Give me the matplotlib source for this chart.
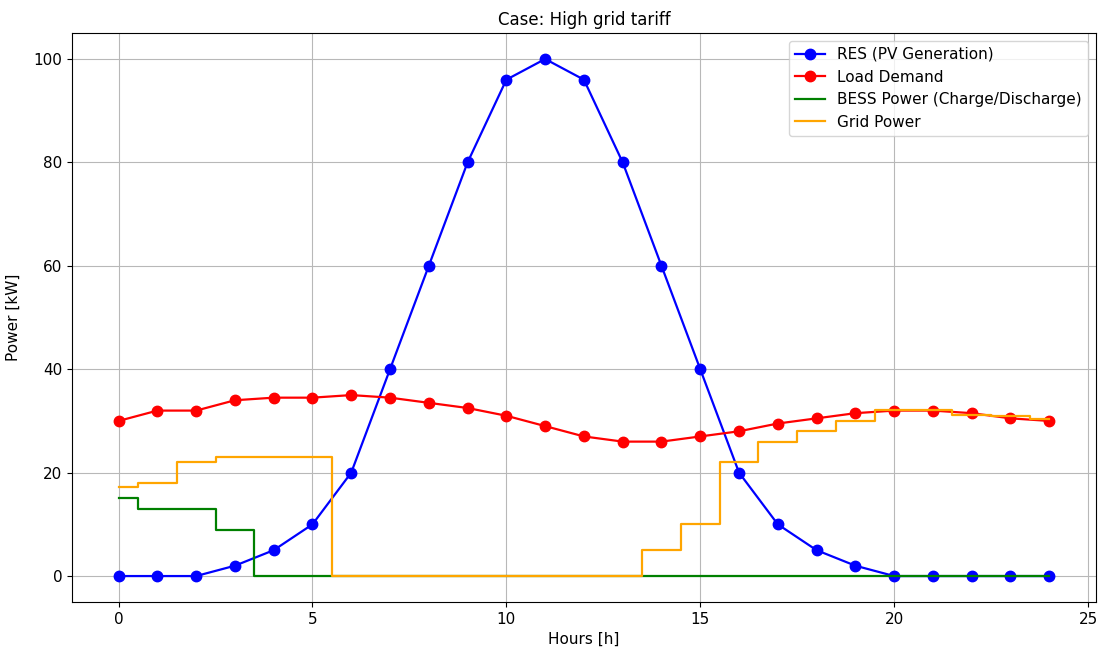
import matplotlib
matplotlib.use('Agg')
import matplotlib.pyplot as plt

hours = list(range(25))
res_pv = [0, 0, 0, 2, 5, 10, 20, 40, 60, 80, 96, 100, 96, 80, 60, 40, 20, 10, 5, 2, 0, 0, 0, 0, 0]
load = [30, 32, 32, 34, 34.5, 34.5, 35, 34.5, 33.5, 32.5, 31, 29, 27, 26, 26, 27, 28, 29.5,
        30.5, 31.5, 32, 32, 31.5, 30.5, 30]
bess = [15, 13, 13, 9, 0, 0, 0, 0, 0, 0, 0, 0, 0, 0, 0, 0, 0, 0, 0, 0, 0, 0, 0, 0, 0]
grid = [17.3, 18, 22, 23, 23, 23, 0, 0, 0, 0, 0, 0, 0, 0, 5, 10, 22, 26, 28, 30, 32.2, 32.2,
        31.2, 31, 30.3]

plt.rcParams['font.size'] = 11

fig = plt.figure(figsize=(10.98, 6.5), dpi=100)
ax = fig.add_subplot(111)
fig.subplots_adjust(left=0.0656, right=0.998, top=0.949, bottom=0.074)

ax.plot(hours, res_pv, 'o-', color='blue', lw=1.6, markersize=7.5, label='RES (PV Generation)')
ax.plot(hours, load, 'o-', color='red', lw=1.6, markersize=7.5, label='Load Demand')
ax.step(hours, bess, where='mid', color='green', lw=1.6, label='BESS Power (Charge/Discharge)')
ax.step(hours, grid, where='mid', color='orange', lw=1.6, label='Grid Power')

ax.set_title('Case: High grid tariff', fontsize=12)
ax.set_xlabel('Hours [h]')
ax.set_ylabel('Power [kW]')
ax.yaxis.set_label_coords(-0.05, 0.5)
ax.grid(True, color='#b8b8b8')
ax.legend(loc='upper right')

fig.savefig('out.png', dpi=100)
